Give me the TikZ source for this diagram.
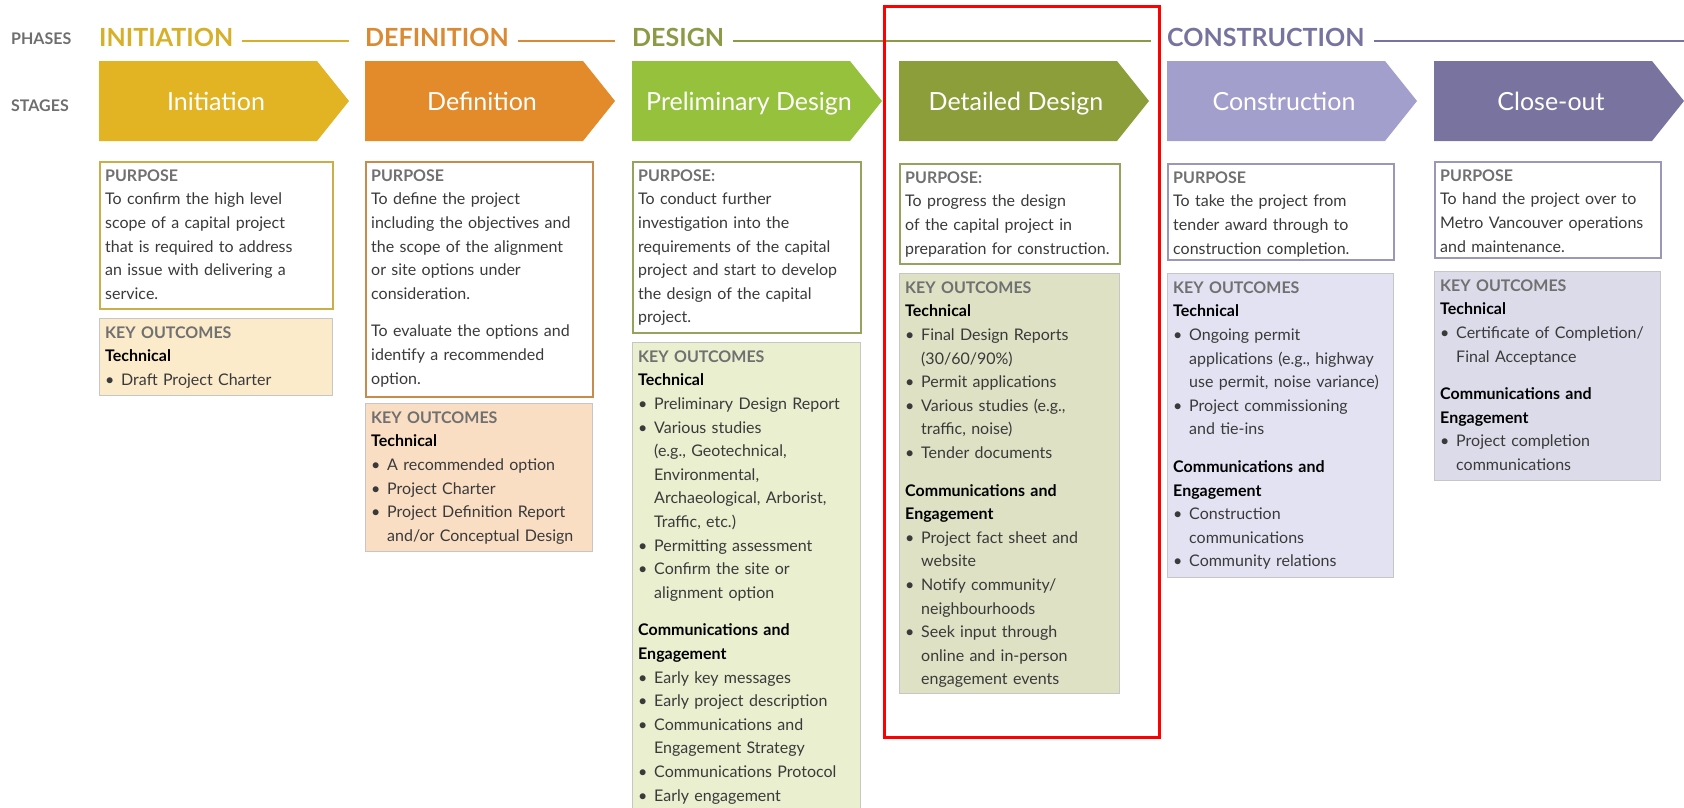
\documentclass[tikz,border=0pt]{standalone}
\usepackage{fontspec}
\setmainfont{Lato}
\definecolor{cInit}{HTML}{E2B322}
\definecolor{cDef}{HTML}{E38A2A}
\definecolor{cPre}{HTML}{95C13D}
\definecolor{cDet}{HTML}{8C9E3A}
\definecolor{cCon}{HTML}{A39FCD}
\definecolor{cClo}{HTML}{78749F}
\definecolor{tInit}{HTML}{D7B02A}
\definecolor{tDef}{HTML}{D98A33}
\definecolor{tDes}{HTML}{8C9A45}
\definecolor{tCon}{HTML}{77739F}
\definecolor{bInit}{HTML}{C9AE4A}
\definecolor{bDef}{HTML}{C98A4E}
\definecolor{bDes}{HTML}{95A35F}
\definecolor{bCon}{HTML}{9A98B8}
\definecolor{kInit}{HTML}{FBEBCB}
\definecolor{kDef}{HTML}{F9DEC4}
\definecolor{kPre}{HTML}{E9EFCF}
\definecolor{kDet}{HTML}{DEE1C4}
\definecolor{kCon}{HTML}{E3E2F2}
\definecolor{kClo}{HTML}{DCDBE9}
\definecolor{kBorder}{HTML}{C6C6C6}
\definecolor{hdgray}{HTML}{707070}
\definecolor{bodygray}{HTML}{3A3A3A}
\definecolor{lblgray}{HTML}{6E6E6E}
\newcommand\bitem{\makebox[16pt][l]{\textbullet}}
\newcommand\bcont{\hspace*{16pt}}
\newcommand\phd[1]{{\bfseries\color{hdgray}#1}}
\newcommand\thd[1]{{\bfseries\color{black}#1}}
\newcommand\fst{\rule{0pt}{17pt}}
\tikzset{
  pbox/.style={draw=#1, line width=1.8pt, fill=white, anchor=north west, inner sep=0pt},
  kbox/.style={draw=kBorder, line width=1pt, fill=#1, anchor=north west, inner sep=0pt},
  btxt/.style={anchor=north west, inner sep=0pt, align=left, text width=#1,
    font=\fontsize{16}{23.6}\selectfont, text=bodygray},
  stg/.style={text=white, font=\fontsize{25}{30}\selectfont, inner sep=0pt, anchor=base},
  phs/.style={font=\fontsize{25}{30}\selectfont\bfseries, anchor=base west, inner sep=0pt},
  lbl/.style={font=\fontsize{16}{20}\selectfont\bfseries, text=lblgray, anchor=base west, inner sep=0pt},
  phline/.style={line width=1.6pt}
}
\begin{document}
\begin{tikzpicture}[x=1pt,y=-1pt]
\useasboundingbox (0,0) rectangle (1684,807);
% labels
\node[lbl] (phases) at (11,44) {PHASES};
\node[lbl] (stages) at (11,111) {STAGES};
% phase headings
\node[phs, text=tInit] (phI) at (99,46) {INITIATION};
\node[phs, text=tDef] (phD) at (365,46) {DEFINITION};
\node[phs, text=tDes] (phS) at (632,46) {DESIGN};
\node[phs, text=tCon] (phC) at (1167,46) {CONSTRUCTION};
\coordinate (eI) at (349,41);
\coordinate (eD) at (615,41);
\coordinate (eS) at (1151,41);
\coordinate (eC) at (1684,41);
\draw[phline, draw=tInit] ([xshift=9pt]phI.east |- eI) -- (eI);
\draw[phline, draw=tDef] ([xshift=9pt]phD.east |- eD) -- (eD);
\draw[phline, draw=tDes] ([xshift=9pt]phS.east |- eS) -- (eS);
\draw[phline, draw=tCon] ([xshift=9pt]phC.east |- eC) -- (eC);
% stage arrows
\foreach \x/\c in {99/cInit,365/cDef,632/cPre,899/cDet,1167/cCon,1434/cClo}{
  \fill[\c] (\x,61) -- ++(218,0) -- ++(32,40) -- ++(-32,40) -- ++(-218,0) -- cycle;
}
\node[stg] (sI) at (216,110) {Initiation};
\node[stg] (sD) at (482,110) {Definition};
\node[stg] (sP) at (749,110) {Preliminary Design};
\node[stg] (sT) at (1016,110) {Detailed Design};
\node[stg] (sC) at (1284,110) {Construction};
\node[stg] (sO) at (1551,110) {Close-out};
% ---------- Initiation
\node[pbox=bInit, minimum width=233, minimum height=147] (iP) at (99,161) {};
\node[btxt=225] (iPt) at ([xshift=6pt,yshift=-3pt]iP.north west) {\fst\phd{PURPOSE}\\
To confirm the high level\\
scope of a capital project\\
that is required to address\\
an issue with delivering a\\
service.};
\node[kbox=kInit, minimum width=233, minimum height=77] (iK) at (99,318) {};
\node[btxt=225] (iKt) at ([xshift=6pt,yshift=-3pt]iK.north west) {\fst\phd{KEY OUTCOMES}\\
\thd{Technical}\\
\bitem Draft Project Charter};
% ---------- Definition
\node[pbox=bDef, minimum width=227, minimum height=235] (dP) at (365,161) {};
\node[btxt=220] (dPt) at ([xshift=6pt,yshift=-3pt]dP.north west) {\fst\phd{PURPOSE}\\
To define the project\\
including the objectives and\\
the scope of the alignment\\
or site options under\\
consideration.\\[14pt]
To evaluate the options and\\
identify a recommended\\
option.};
\node[kbox=kDef, minimum width=227, minimum height=148] (dK) at (365,403) {};
\node[btxt=220] (dKt) at ([xshift=6pt,yshift=-3pt]dK.north west) {\fst\phd{KEY OUTCOMES}\\
\thd{Technical}\\
\bitem A recommended option\\
\bitem Project Charter\\
\bitem Project Definition Report\\
\bcont and/or Conceptual Design};
% ---------- Preliminary design
\node[pbox=bDes, minimum width=228, minimum height=171] (pP) at (632,161) {};
\node[btxt=220] (pPt) at ([xshift=6pt,yshift=-3pt]pP.north west) {\fst\phd{PURPOSE:}\\
To conduct further\\
investigation into the\\
requirements of the capital\\
project and start to develop\\
the design of the capital\\
project.};
\node[kbox=kPre, minimum width=228, minimum height=480] (pK) at (632,342) {};
\node[btxt=220] (pKt) at ([xshift=6pt,yshift=-3pt]pK.north west) {\fst\phd{KEY OUTCOMES}\\
\thd{Technical}\\
\bitem Preliminary Design Report\\
\bitem Various studies\\
\bcont (e.g., Geotechnical,\\
\bcont Environmental,\\
\bcont Archaeological, Arborist,\\
\bcont Traffic, etc.)\\
\bitem Permitting assessment\\
\bitem Confirm the site or\\
\bcont alignment option\\[14pt]
\thd{Communications and}\\
\thd{Engagement}\\
\bitem Early key messages\\
\bitem Early project description\\
\bitem Communications and\\
\bcont Engagement Strategy\\
\bitem Communications Protocol\\
\bitem Early engagement};
% ---------- Detailed design
\node[pbox=bDes, minimum width=220, minimum height=100] (tP) at (899,163) {};
\node[btxt=215] (tPt) at ([xshift=6pt,yshift=-3pt]tP.north west) {\fst\phd{PURPOSE:}\\
To progress the design\\
of the capital project in\\
preparation for construction.};
\node[kbox=kDet, minimum width=220, minimum height=420] (tK) at (899,273) {};
\node[btxt=215] (tKt) at ([xshift=6pt,yshift=-3pt]tK.north west) {\fst\phd{KEY OUTCOMES}\\
\thd{Technical}\\
\bitem Final Design Reports\\
\bcont (30/60/90\%)\\
\bitem Permit applications\\
\bitem Various studies (e.g.,\\
\bcont traffic, noise)\\
\bitem Tender documents\\[14pt]
\thd{Communications and}\\
\thd{Engagement}\\
\bitem Project fact sheet and\\
\bcont website\\
\bitem Notify community/\\
\bcont neighbourhoods\\
\bitem Seek input through\\
\bcont online and in-person\\
\bcont engagement events};
% ---------- Construction
\node[pbox=bCon, minimum width=226, minimum height=96] (cP) at (1167,163) {};
\node[btxt=220] (cPt) at ([xshift=6pt,yshift=-3pt]cP.north west) {\fst\phd{PURPOSE}\\
To take the project from\\
tender award through to\\
construction completion.};
\node[kbox=kCon, minimum width=226, minimum height=304] (cK) at (1167,273) {};
\node[btxt=220] (cKt) at ([xshift=6pt,yshift=-3pt]cK.north west) {\fst\phd{KEY OUTCOMES}\\
\thd{Technical}\\
\bitem Ongoing permit\\
\bcont applications (e.g., highway\\
\bcont use permit, noise variance)\\
\bitem Project commissioning\\
\bcont and tie-ins\\[14pt]
\thd{Communications and}\\
\thd{Engagement}\\
\bitem Construction\\
\bcont communications\\
\bitem Community relations};
% ---------- Close-out
\node[pbox=bCon, minimum width=226, minimum height=96] (oP) at (1434,161) {};
\node[btxt=220] (oPt) at ([xshift=6pt,yshift=-3pt]oP.north west) {\fst\phd{PURPOSE}\\
To hand the project over to\\
Metro Vancouver operations\\
and maintenance.};
\node[kbox=kClo, minimum width=226, minimum height=209] (oK) at (1434,271) {};
\node[btxt=220] (oKt) at ([xshift=6pt,yshift=-3pt]oK.north west) {\fst\phd{KEY OUTCOMES}\\
\thd{Technical}\\
\bitem Certificate of Completion/\\
\bcont Final Acceptance\\[14pt]
\thd{Communications and}\\
\thd{Engagement}\\
\bitem Project completion\\
\bcont communications};
% highlight
\node[draw=red, line width=2.5pt, minimum width=275, minimum height=731, anchor=north west, inner sep=0pt] (hl) at (883,5) {};
\end{tikzpicture}
\end{document}
